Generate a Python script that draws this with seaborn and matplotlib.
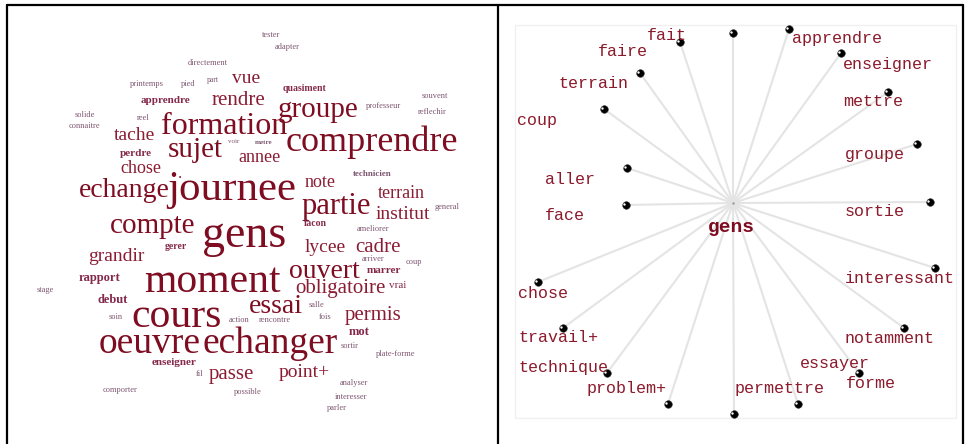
import matplotlib
matplotlib.use("Agg")
import matplotlib.pyplot as plt
import matplotlib.transforms as mtransforms
from matplotlib.lines import Line2D
from matplotlib.patches import Rectangle
import pandas as pd
import seaborn as sns

# ---- left panel : word cloud (word, layout x/y in px, font size pt) ----
words = ["gens", "journee", "moment", "comprendre", "cours", "oeuvre", "echanger",
         "formation", "compte", "echange", "sujet", "partie", "groupe", "ouvert",
         "essai", "obligatoire", "passe", "point+", "permis", "institut", "cadre",
         "lycee", "terrain", "note", "grandir", "tache", "chose", "vue", "rendre",
         "annee", "apprendre", "perdre", "rapport", "debut", "enseigner", "quasiment",
         "technicien", "mot", "gerer", "vrai", "marrer", "facon", ".",
         "directement", "printemps", "pied", "part", "tester", "adapter", "solide",
         "connaitre", "reel", "voir", "metre", "professeur", "souvent", "reflechir",
         "general", "ameliorer", "arriver", "coup", "salle", "fois", "action",
         "rencontre", "sortir", "plate-forme", "analyser", "interesser", "parler",
         "possible", "fil", "comporter", "stage", "soin"]
word_x = [244, 232, 212, 372, 177, 150, 270,
          224, 153, 124, 195, 336, 318, 324,
          276, 340, 231, 304, 373, 403, 378,
          325, 401, 320, 116, 134, 141, 246, 238,
          260, 165, 136, 100, 113, 174, 305,
          372, 359, 176, 398, 384, 315, 180,
          208, 147, 188, 213, 271, 287, 85,
          84, 143, 234, 264, 383, 435, 432,
          447, 373, 373, 414, 317, 325, 239,
          275, 350, 396, 354, 351, 337,
          248, 200, 120, 45, 116]
word_y = [236, 190, 282, 143, 317, 344, 344,
          127, 226, 191, 150, 207, 110, 272,
          307, 288, 374, 373, 315, 215, 247,
          248, 194, 183, 257, 136, 169, 79, 100,
          158, 100, 153, 278, 300, 362, 89,
          174, 332, 247, 285, 270, 224, 174,
          63, 84, 84, 80, 35, 47, 115,
          126, 118, 141, 142, 106, 96, 112,
          207, 229, 259, 262, 305, 317, 320,
          320, 346, 354, 383, 397, 408,
          392, 374, 390, 290, 317]
word_size = [33, 31, 30, 26, 30, 27, 27,
             23, 21, 20, 21, 22, 21, 20,
             20, 15, 15, 14, 15, 14, 15,
             14, 13, 13, 14, 14, 13, 14, 15,
             13, 8, 8, 9, 9, 8, 7,
             6.5, 9, 7, 8, 8, 7, 12,
             6, 6, 6, 5.5, 6, 6, 6,
             6, 6, 5, 5, 6, 6, 6,
             6, 6, 6, 6, 6, 6, 6,
             6, 6, 6, 6, 6, 6,
             6, 6, 6, 6, 6]
bold_words = {"apprendre", "perdre", "rapport", "debut", "enseigner", "quasiment",
              "technicien", "mot", "gerer", "marrer", "facon", "metre"}

# ---- right panel : star graph around "gens" (layout relative to hub) ----
hub = "gens"
hub_label_x, hub_label_y = -2, 24
nodes = ["fait", "faire", "terrain", "coup", "aller", "face", "chose", "travail+",
         "technique", "problem+", "permettre", "essayer", "forme", "notamment",
         "interessant", "sortie", "groupe", "mettre", "enseigner", "apprendre"]
node_x = [0, -53, -93, -129, -106, -107, -195, -170, -126, -65,
          1, 65, 126, 171, 202, 197, 184, 155, 108, 56]
node_y = [-170, -161, -130, -94, -35, 2, 79, 125, 170, 201,
          211, 201, 170, 125, 65, -1, -59, -111, -150, -174]
label_x = [-66, -110, -140, -196, -163, -168, -190, -175, -170, -106,
           47, 102, 138, 157, 167, 142, 142, 140, 155, 104]
label_y = [-168, -151, -120, -83, -23, 12, 90, 134, 164, 185,
           185, 160, 180, 135, 75, 8, -49, -101, -139, -164]


def word_color(size):
    if size >= 18:
        return "#7e0d22"
    if size >= 12:
        return "#8a1c33"
    if size >= 7:
        return "#84294a"
    return "#7e5670"


sns.set_theme(style="white")
plt.rcParams['font.family'] = ['Liberation Serif', 'DejaVu Serif']

fig = plt.figure(figsize=(9.65, 4.44), dpi=100)
ax_l = fig.add_axes([0, 0, 498 / 965, 1])
ax_r = fig.add_axes([498 / 965, 0, 467 / 965, 1])

# word cloud
for w, x, y, s in zip(words, word_x, word_y, word_size):
    tr = mtransforms.offset_copy(ax_l.transData, fig=fig, y=-0.23 * s, units='points')
    ax_l.text(x, y, w, fontsize=s, color=word_color(s), ha='center', va='baseline',
              fontweight='bold' if w in bold_words else 'normal', transform=tr)
ax_l.set_xlim(0, 498)
ax_l.set_ylim(444, 0)
ax_l.axis('off')

# graph edges
edges = pd.DataFrame({
    'edge': [i for i in range(len(nodes)) for _ in range(2)],
    'x': [v for nx in node_x for v in (0, nx)],
    'y': [v for ny in node_y for v in (0, ny)],
})
ax_r.add_patch(Rectangle((-218, -178), 441, 393, fill=False, ec="#f0f0f0", lw=1))
sns.lineplot(data=edges, x='x', y='y', units='edge', estimator=None, sort=False,
             color="#e4e4e4", lw=1.5, ax=ax_r, legend=False)
sns.scatterplot(x=node_x, y=node_y, color='black', s=30, edgecolor='#333333',
                linewidth=0.4, ax=ax_r, zorder=3)
hl = mtransforms.offset_copy(ax_r.transData, fig=fig, x=-1.3, y=0.6, units='points')
ax_r.scatter(node_x, node_y, color='white', s=3, lw=0, zorder=4, transform=hl)
ax_r.scatter([0], [0], color='#999999', s=3, lw=0, zorder=3)

for name, lx, ly in zip(nodes, label_x, label_y):
    ax_r.text(lx, ly, name, family=['Liberation Mono'], fontsize=12,
              color="#8b1a2b", ha='center', va='center', zorder=5)
ax_r.text(hub_label_x, hub_label_y, hub, family=['Liberation Mono'], fontsize=14,
          fontweight='bold', color="#7e0a1e", ha='center', va='center', zorder=5)

ax_r.set_xlim(-235, 232)
ax_r.set_ylim(241, -203)
ax_r.set_xlabel('')
ax_r.set_ylabel('')
ax_r.axis('off')

# table borders
for xs, ys in [([7, 963], [5, 5]), ([7, 7], [5, 444]),
               ([498, 498], [5, 444]), ([963, 963], [5, 444])]:
    fig.add_artist(Line2D([v / 965 for v in xs], [1 - v / 444 for v in ys],
                          transform=fig.transFigure, color='black', lw=1.6))

fig.savefig('out.png', dpi=100)
